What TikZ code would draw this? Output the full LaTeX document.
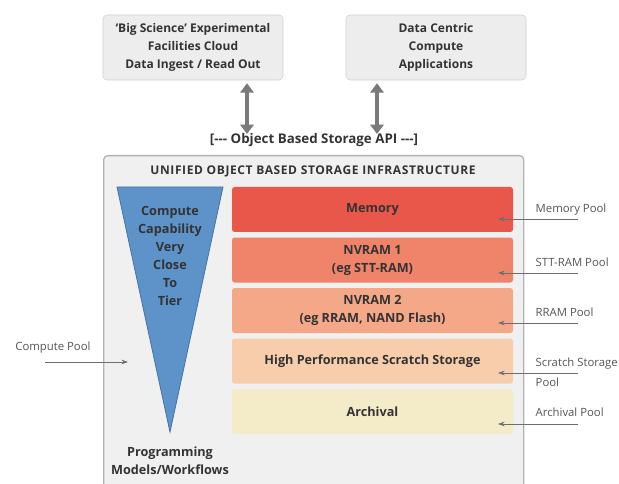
\documentclass[tikz,border=0pt]{standalone}
\usepackage{fontspec}
\setmainfont{Open Sans}
\usepackage{tikz}
\usetikzlibrary{arrows.meta, positioning}
\definecolor{boxgray}{HTML}{EDEDED}
\definecolor{edgegray}{HTML}{CFCFCF}
\definecolor{infragray}{HTML}{F0F0F0}
\definecolor{infraedge}{HTML}{B4B4B4}
\definecolor{txtgray}{HTML}{333333}
\definecolor{lblgray}{HTML}{555555}
\definecolor{arrgray}{HTML}{7A7A7A}
\definecolor{linegray}{HTML}{6E6E6E}
\definecolor{tierblue}{HTML}{5D93C8}
\definecolor{tieredge}{HTML}{4274A6}
\definecolor{memred}{HTML}{E9574A}
\definecolor{nvone}{HTML}{EF846B}
\definecolor{nvtwo}{HTML}{F4A888}
\definecolor{scratchtan}{HTML}{F8CDAB}
\definecolor{archcream}{HTML}{F4EBC9}
\tikzset{
  srcbox/.style={rectangle, rounded corners=3pt, draw=edgegray, fill=boxgray, align=center,
    minimum width=135pt, minimum height=48.75pt, text=txtgray, font=\bfseries\fontsize{9}{13.5}\selectfont},
  tierbox/.style={rectangle, rounded corners=2pt, draw=none, align=center,
    minimum width=210.75pt, minimum height=33.75pt, text=txtgray, font=\bfseries\fontsize{9.5}{13.5}\selectfont},
  apiarr/.style={{Triangle[length=7pt,width=10pt]}-{Triangle[length=7pt,width=10pt]}, line width=3.5pt, draw=arrgray},
  poolarr/.style={-{Stealth[length=5pt,width=3.5pt]}, draw=linegray, line width=0.6pt},
  poollbl/.style={anchor=west, align=left, text=lblgray, font=\fontsize{8.5}{15}\selectfont},
}
\begin{document}
\begin{tikzpicture}[x=0.75pt, y=-0.75pt, node distance=3.75pt]
\useasboundingbox (0,0) rectangle (619,484);
% sources on top
\node[srcbox] (bigsci) at (193,47.5) {`Big Science' Experimental\\Facilities Cloud\\Data Ingest / Read Out};
\node[srcbox] (datacc) at (436,47.5) {Data Centric\\Compute\\Applications};
\node[font=\bfseries\fontsize{10}{13.5}\selectfont, text=txtgray] (api) at (314,140) {[{-}{-}{-} Object Based Storage API {-}{-}{-}]};
\coordinate (la) at (247,0);
\coordinate (ra) at (377,0);
\draw[apiarr] (bigsci.south -| la) ++(0,3) -- ([yshift=-4pt]api.north -| la);
\draw[apiarr] (datacc.south -| ra) ++(0,3) -- ([yshift=-4pt]api.north -| ra);
% storage infrastructure
\node[rectangle, rounded corners=3pt, draw=infraedge, fill=infragray, line width=1pt, anchor=north west,
  minimum width=315pt, minimum height=251.25pt] (infra) at (103,155) {};
\node[font=\bfseries\fontsize{9}{13.5}\selectfont, text=txtgray] (title) at (313,171) {\addfontfeature{LetterSpace=5}UNIFIED OBJECT BASED STORAGE INFRASTRUCTURE};
\filldraw[fill=tierblue, draw=tieredge, line width=0.6pt] (117,187) -- (223,187) -- (170,432) -- cycle;
\node[align=center, text=txtgray, font=\bfseries\fontsize{9.5}{13.5}\selectfont] (capab) at (170,256) {Compute\\Capability\\Very\\Close\\To\\Tier};
\node[align=center, text=txtgray, font=\bfseries\fontsize{9.5}{13.5}\selectfont] (progm) at (170,461) {Programming\\Models/Workflows};
\node[tierbox, fill=memred] (mem) at (372.5,209.5) {Memory};
\node[tierbox, fill=nvone, below=of mem] (nv1) {NVRAM 1\\(eg STT-RAM)};
\node[tierbox, fill=nvtwo, below=of nv1] (nv2) {NVRAM 2\\(eg RRAM, NAND Flash)};
\node[tierbox, fill=scratchtan, below=of nv2] (scr) {High Performance Scratch Storage};
\node[tierbox, fill=archcream, below=of scr] (arc) {Archival};
% pools
\node[poollbl] (pmem) at (531,210) {Memory Pool};
\node[poollbl] (pnv1) at (531,262) {STT-RAM Pool};
\node[poollbl] (pnv2) at (531,312) {RRAM Pool};
\node[poollbl] (pscr) at (531,372) {Scratch Storage\\Pool};
\node[poollbl] (parc) at (531,412) {Archival Pool};
\coordinate (pmem-e) at (578,219); \coordinate (pmem-w) at (498,219);
\coordinate (pnv1-e) at (578,273); \coordinate (pnv1-w) at (498,273);
\coordinate (pnv2-e) at (578,323); \coordinate (pnv2-w) at (498,323);
\coordinate (pscr-e) at (578,373); \coordinate (pscr-w) at (498,373);
\coordinate (parc-e) at (578,424); \coordinate (parc-w) at (498,424);
\draw[poolarr] (pmem-e) -- (pmem-w); \draw[poolarr] (pnv1-e) -- (pnv1-w);
\draw[poolarr] (pnv2-e) -- (pnv2-w); \draw[poolarr] (pscr-e) -- (pscr-w);
\draw[poolarr] (parc-e) -- (parc-w);
\node[text=lblgray, font=\fontsize{8.5}{15}\selectfont] (cpool) at (53,348) {Compute Pool};
\coordinate (cp-w) at (45,362); \coordinate (cp-e) at (128,362);
\draw[poolarr] (cp-w) -- (cp-e);
\end{tikzpicture}
\end{document}
